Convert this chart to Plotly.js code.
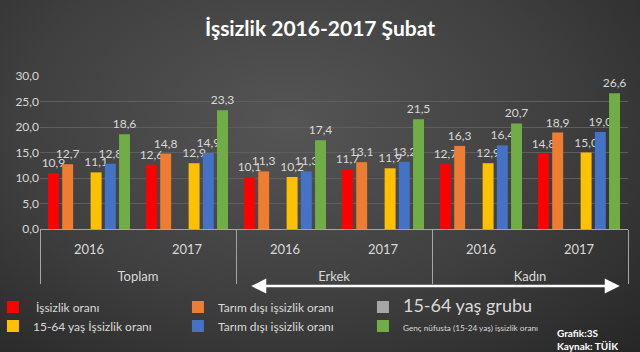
<!DOCTYPE html>
<html>
<head>
<meta charset="utf-8">
<script src="https://cdn.plot.ly/plotly-3.0.1.min.js"></script>
<style>
html,body{margin:0;padding:0;}
body{width:640px;height:352px;background:radial-gradient(ellipse at 45% 35%, #555555 0%, #3f3f3f 55%, #262626 100%);}
#chart{width:640px;height:352px;}
</style>
</head>
<body>
<div id="chart"></div>
<script>
const groups = ["Toplam","Toplam","Erkek","Erkek","Kadın","Kadın"];
const years = ["2016","2017","2016","2017","2016","2017"];

const seriesNames = [
  " İşsizlik oranı",
  "Tarım dışı işsizlik oranı",
  "<span style=\"font-size:18px\">15-64 yaş grubu</span>",
  "15-64 yaş İşsizlik oranı",
  "Tarım dışı işsizlik oranı",
  "<span style=\"font-size:8.2px\">Genç nüfusta (15-24 yaş) işsizlik oranı</span>"
];
const issizlik = [10.9, 12.6, 10.1, 11.7, 12.7, 14.8];
const tarimDisi = [12.7, 14.8, 11.3, 13.1, 16.3, 18.9];
const grup1564 = [null, null, null, null, null, null];
const yas1564 = [11.1, 12.9, 10.2, 11.9, 12.9, 15.0];
const tarimDisi1564 = [12.8, 14.9, 11.3, 13.2, 16.4, 19.0];
const genc = [18.6, 23.3, 17.4, 21.5, 20.7, 26.6];

const seriesValues = [issizlik, tarimDisi, grup1564, yas1564, tarimDisi1564, genc];
const colors = ["#ff0000", "#ee7d31", "#a6a6a6", "#ffc000", "#4472c4", "#70ad47"];

const fmt = v => v == null ? "" : v.toFixed(1).replace(".", ",");
// blank first line pushes the group label lower, as in the reference
const groupLabels = groups.map(g => "<br>" + g);

const traces = seriesValues.map((vals, i) => ({
  type: "bar",
  name: seriesNames[i],
  x: [groupLabels, years],
  y: vals,
  text: vals.map(fmt),
  textposition: "outside",
  cliponaxis: false,
  constraintext: "none",
  textfont: {color: "#d9d9d9", size: 12, family: "Lato, 'Open Sans', sans-serif"},
  marker: {color: colors[i], line: {width: 0}},
  hoverinfo: "none"
}));

const layout = {
  width: 640, height: 352,
  paper_bgcolor: "rgba(0,0,0,0)",
  plot_bgcolor: "rgba(0,0,0,0)",
  margin: {l: 40, r: 12, t: 76, b: 123, autoexpand: false},
  separators: ",.",
  font: {family: "Lato, 'Open Sans', sans-serif", color: "#d9d9d9"},
  title: {text: "<b>İşsizlik 2016-2017 Şubat</b>", font: {size: 21, color: "#ffffff"}, x: 0.5, xanchor: "center", y: 0.92, yanchor: "middle"},
  barmode: "group",
  bargap: 0.13,
  bargroupgap: 0.23,
  showlegend: true,
  legend: {
    orientation: "h",
    xref: "paper", x: -0.08, xanchor: "left",
    yref: "paper", y: -0.415, yanchor: "top",
    entrywidth: 140, entrywidthmode: "pixels",
    font: {size: 12, color: "#d9d9d9"},
    itemwidth: 30,
    traceorder: "normal",
    bgcolor: "rgba(0,0,0,0)"
  },
  xaxis: {
    type: "multicategory",
    showline: true, linecolor: "#a6a6a6", linewidth: 1,
    showdividers: true, dividercolor: "#a6a6a6", dividerwidth: 1,
    tickfont: {size: 13, color: "#d9d9d9"},
    ticklabelstandoff: 8,
    ticks: "", showgrid: false, zeroline: false
  },
  yaxis: {
    range: [0, 30], dtick: 5, tickformat: ".1f",
    tickfont: {size: 12, color: "#d9d9d9"},
    showgrid: true, gridcolor: "#5e5e5e", gridwidth: 1,
    zeroline: false, showline: false, ticks: "",
    fixedrange: true
  },
  annotations: [
    {
      xref: "paper", yref: "paper", x: 0.986, y: -0.373,
      ax: -370, ay: 0,
      showarrow: true, arrowhead: 2, startarrowhead: 2, arrowside: "end+start",
      arrowsize: 1.2, startarrowsize: 1.2, arrowwidth: 2.5, arrowcolor: "#ffffff",
      text: ""
    },
    {
      xref: "paper", yref: "paper", x: 0.876, y: -0.725,
      xanchor: "left", yanchor: "middle", showarrow: false, align: "left",
      text: "<b>Grafik:3S<br>Kaynak: TÜİK</b>",
      font: {size: 10, color: "#ffffff"}
    }
  ]
};

Plotly.newPlot("chart", traces, layout, {displayModeBar: false, staticPlot: true});
</script>
</body>
</html>
